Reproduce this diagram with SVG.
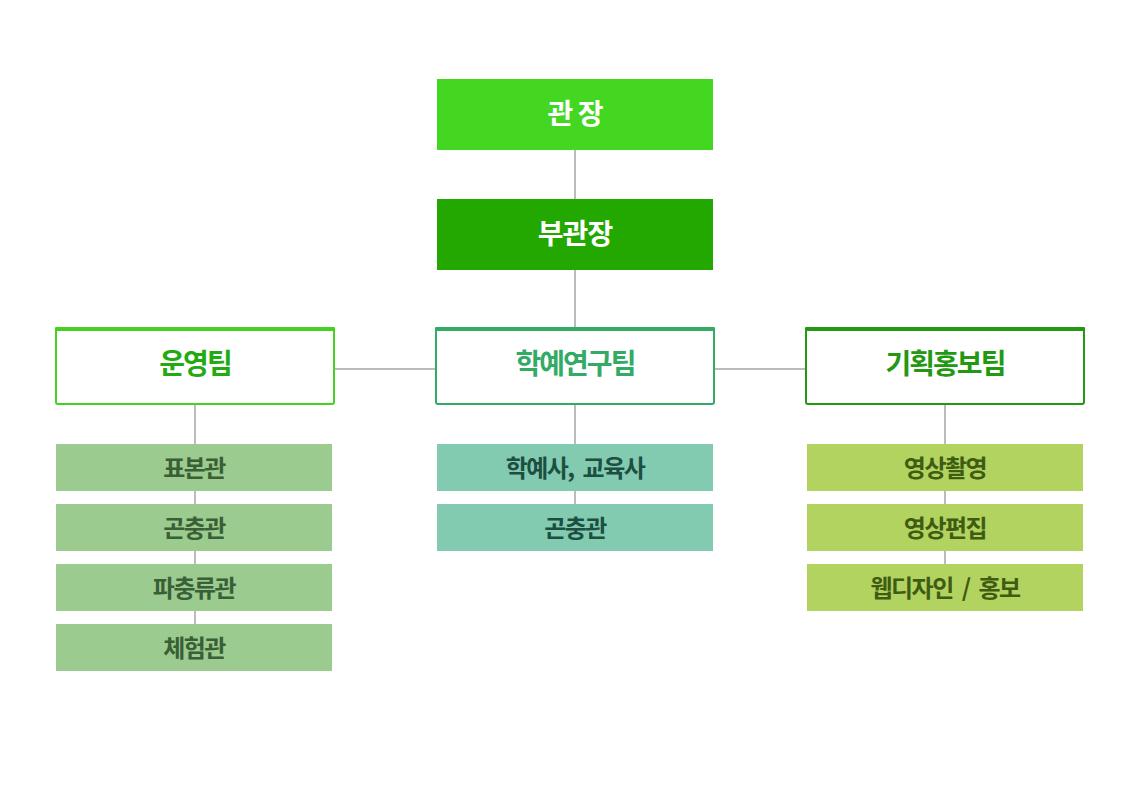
<svg xmlns="http://www.w3.org/2000/svg" width="1140" height="800" viewBox="0 0 1140 800">
<style>
text{font-family:"Noto Sans CJK KR","Noto Sans",sans-serif;font-weight:bold;text-anchor:middle;dominant-baseline:central}
.top{fill:#fff;font-size:28px;letter-spacing:-1px}
.team{font-size:28px;letter-spacing:-2px}
.sub{font-size:24px;letter-spacing:-1.5px}
.ws{word-spacing:5px}
.ln{stroke:#bcbcbc;stroke-width:2;fill:none}
.l{fill:#9bcb8f}.lt{fill:#3a5e36}
.m{fill:#82cbb0}.mt{fill:#1c4f42}
.r{fill:#b3d360}.rt{fill:#3e5c12}
</style>
<rect width="1140" height="800" fill="#fff"/>
<g id="connectors">
<path class="ln" d="M575 150V199M575 270V328M335 369H435M715 369H805M195 405V624M575 405V504M945 405V564"/>
</g>
<g id="director"><rect x="437" y="79" width="276" height="71" fill="#44d722"/><text class="top" x="575" y="112">관 장</text></g>
<g id="vice"><rect x="437" y="199" width="276" height="71" fill="#22a800"/><text class="top" x="575" y="232">부관장</text></g>
<g id="team-ops"><rect x="56" y="329" width="278" height="75" rx="2" fill="#fff" stroke="#44d122" stroke-width="2"/><rect x="55" y="327" width="280" height="4" rx="1" fill="#44d122"/><text class="team" x="195" y="362" fill="#22aa11">운영팀</text></g>
<g id="team-research"><rect x="436" y="329" width="278" height="75" rx="2" fill="#fff" stroke="#33aa66" stroke-width="2"/><rect x="435" y="327" width="280" height="4" rx="1" fill="#33aa66"/><text class="team" x="575" y="362" fill="#33aa66">학예연구팀</text></g>
<g id="team-pr"><rect x="806" y="329" width="278" height="75" rx="2" fill="#fff" stroke="#229911" stroke-width="2"/><rect x="805" y="327" width="280" height="4" rx="1" fill="#229911"/><text class="team" x="945" y="362" fill="#229911">기획홍보팀</text></g>
<g id="l1"><rect class="l" x="56" y="444" width="276" height="47"/><text class="sub lt" x="194" y="466">표본관</text></g>
<g id="l2"><rect class="l" x="56" y="504" width="276" height="47"/><text class="sub lt" x="194" y="526">곤충관</text></g>
<g id="l3"><rect class="l" x="56" y="564" width="276" height="47"/><text class="sub lt" x="194" y="586">파충류관</text></g>
<g id="l4"><rect class="l" x="56" y="624" width="276" height="47"/><text class="sub lt" x="194" y="646">체험관</text></g>
<g id="m1"><rect class="m" x="437" y="444" width="276" height="47"/><text class="sub mt ws" x="575" y="466">학예사, 교육사</text></g>
<g id="m2"><rect class="m" x="437" y="504" width="276" height="47"/><text class="sub mt" x="575" y="526">곤충관</text></g>
<g id="r1"><rect class="r" x="807" y="444" width="276" height="47"/><text class="sub rt" x="945" y="466">영상촬영</text></g>
<g id="r2"><rect class="r" x="807" y="504" width="276" height="47"/><text class="sub rt" x="945" y="526">영상편집</text></g>
<g id="r3"><rect class="r" x="807" y="564" width="276" height="47"/><text class="sub rt ws" x="945" y="586">웹디자인 / 홍보</text></g>
</svg>
